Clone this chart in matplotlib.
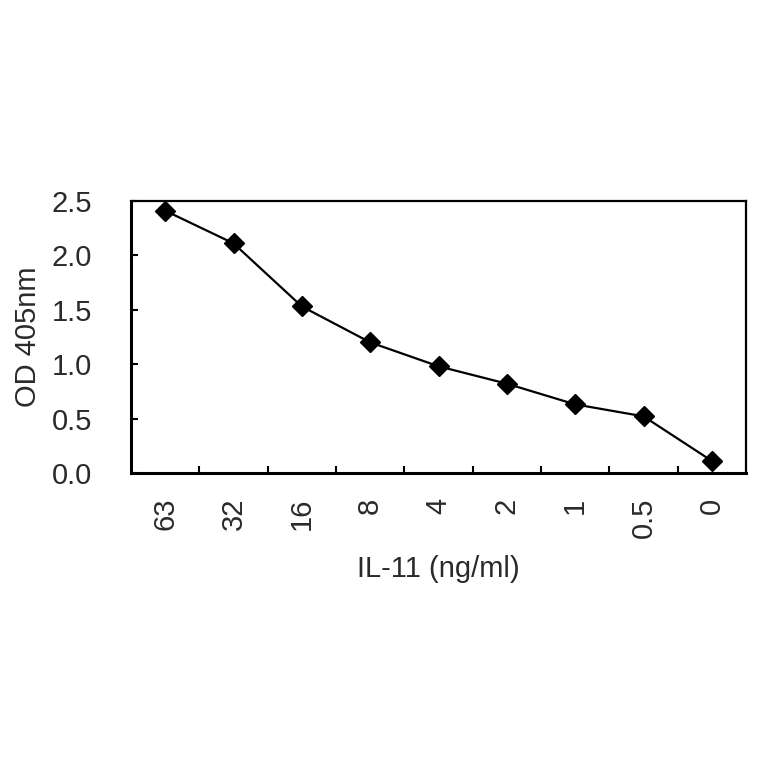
import matplotlib
matplotlib.use('Agg')
import matplotlib.pyplot as plt

plt.rcParams['font.family'] = ['Liberation Sans', 'DejaVu Sans']

# IL-11 dilution series and OD readings
conc_labels = ['63', '32', '16', '8', '4', '2', '1', '0.5', '0']
od405 = [2.41, 2.11, 1.53, 1.20, 0.98, 0.82, 0.63, 0.52, 0.11]
y_ticks = [0.0, 0.5, 1.0, 1.5, 2.0, 2.5]

fig = plt.figure(figsize=(7.64, 7.64), dpi=100)
ax = fig.add_axes([0.1715, 0.381, 0.805, 0.356])

x = list(range(len(conc_labels)))
ax.plot(x, od405, color='black', lw=1.6, marker='D', markersize=10.5,
        markerfacecolor='black', markeredgecolor='black')

ax.set_xlim(-0.5, len(conc_labels) - 0.5)
ax.set_ylim(0, 2.5)

# category labels centred, tick marks on category boundaries (Excel style)
ax.set_xticks(x)
ax.set_xticklabels(conc_labels, rotation=90, fontsize=21, color='#2a2a2a')
ax.tick_params(axis='x', which='major', length=0, pad=18)
ax.set_xticks([i + 0.5 for i in x[:-1]], minor=True)
ax.tick_params(axis='x', which='minor', direction='in', length=5, width=1.5)

ax.set_yticks(y_ticks)
ax.set_yticklabels(['%.1f' % v for v in y_ticks], fontsize=21, color='#2a2a2a')
ax.tick_params(axis='y', direction='in', length=5, width=1.5, pad=28)

for side in ['left', 'bottom']:
    ax.spines[side].set_linewidth(2.2)
for side in ['top', 'right']:
    ax.spines[side].set_linewidth(1.6)

ax.set_xlabel('IL-11 (ng/ml)', fontsize=21, color='#2a2a2a', labelpad=12)
ax.set_ylabel('OD 405nm', fontsize=21, color='#2a2a2a', labelpad=7)

fig.savefig('out.png', dpi=100)
